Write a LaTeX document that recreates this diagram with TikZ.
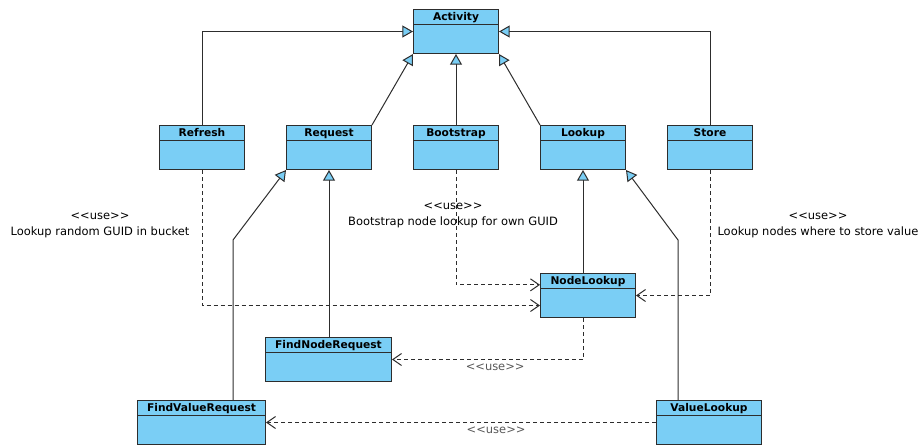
\documentclass[tikz,border=0pt]{standalone}
\usepackage{fontspec}
\newfontfamily\umlfont{DejaVu Sans}
\usetikzlibrary{arrows.meta,shapes.multipart}
\usetikzlibrary{positioning}
\definecolor{umlblue}{RGB}{122,206,245}
\definecolor{umlline}{RGB}{45,45,45}
\tikzstyle{class} = [rectangle split, rectangle split parts=2, draw=umlline, fill=umlblue, anchor=north west, minimum width=63.75pt, inner xsep=2pt, inner ysep=1.5pt, text height=6pt, text depth=1.5pt, rectangle split empty part height=18pt, font=\umlfont\bfseries\fontsize{8}{9.6}\selectfont, line width=0.75pt]
\tikzstyle{gen} = [draw=umlline, line width=0.75pt, -{Triangle[open, length=8pt, width=9pt, fill=umlblue]}]
\tikzstyle{dep} = [draw=umlline, line width=0.75pt, dash pattern=on 3pt off 2.25pt, -{Straight Barb[length=6.5pt, width=9pt]}]
\tikzstyle{note} = [align=center, inner sep=0pt, font=\umlfont\fontsize{8.6}{12}\selectfont]
\newcommand{\stereo}{<\kern0pt<use>\kern0pt>}

\begin{document}
\begin{tikzpicture}[x=0.75pt, y=-0.75pt]
 \useasboundingbox (0,0) rectangle (920,444);

 % classes
 \node (act) [class] at (413,9) {Activity \nodepart{second}};
 \node (refresh) [class] at (159,125) {Refresh \nodepart{second}};
 \node (request) [class] at (286,125) {Request \nodepart{second}};
 \node (boot) [class] at (413,125) {Bootstrap \nodepart{second}};
 \node (lookup) [class] at (540,125) {Lookup \nodepart{second}};
 \node (store) [class] at (667,125) {Store \nodepart{second}};
 \node (nodelookup) [class, minimum width=71.25pt] at (540,273) {NodeLookup \nodepart{second}};
 \node (findnode) [class, minimum width=94.5pt] at (265,337) {FindNodeRequest \nodepart{second}};
 \node (findvalue) [class, minimum width=96pt] at (137,400) {FindValueRequest \nodepart{second}};
 \node (valuelookup) [class, minimum width=78.75pt] at (656,400) {ValueLookup \nodepart{second}};

 % generalizations
 \draw[gen] (refresh.north) |- (act.west);
 \draw[gen] (store.north) |- (act.east);
 \draw[gen] (request.north east) -- (act.south west);
 \draw[gen] (boot.north) -- (act.south);
 \draw[gen] (lookup.north west) -- (act.south east);

 \coordinate (fvbend) at (233,240);
 \coordinate (vlbend) at (678,240);
 \draw[gen] (findvalue.north -| fvbend) -- (fvbend) -- (request.south west);
 \draw[gen] (findnode.north -| request.south) -- (request.south);
 \draw[gen] (nodelookup.north -| lookup.south) -- (lookup.south);
 \draw[gen] (valuelookup.north -| vlbend) -- (vlbend) -- (lookup.south east);

 % usage
 \draw[dep] (refresh.south) |- ([yshift=-7.5pt]nodelookup.west);
 \draw[dep] (boot.south) |- ([yshift=8pt]nodelookup.west);
 \draw[dep] (store.south) |- (nodelookup.east);
 \draw[dep] (nodelookup.south -| lookup.south) |- (findnode.east)
   node[pos=0.73, below=2.5pt, note, text=umlline!80] {\stereo};
 \draw[dep] (valuelookup.west) -- (findvalue.east)
   node[pos=0.41, below=2.5pt, note, text=umlline!80] {\stereo};

 \node (refreshnote) [note] at (100,225) {\stereo\\Lookup random GUID in bucket};
 \node (bootnote) [note] at (453,215) {\stereo\\Bootstrap node lookup for own GUID};
 \node (storenote) [note] at (818,225) {\stereo\\Lookup nodes where to store value};
\end{tikzpicture}
\end{document}
